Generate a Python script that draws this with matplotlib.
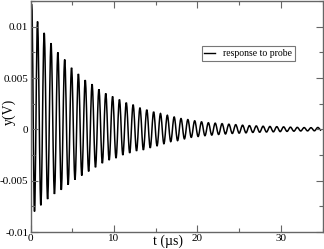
import matplotlib
matplotlib.use("Agg")
import matplotlib.pyplot as plt
from matplotlib.ticker import MultipleLocator
from matplotlib.path import Path
from matplotlib.patches import PathPatch
from matplotlib.lines import Line2D

# Extrema (time in µs, value in V)
peak_t = [0.15, 0.84, 1.64, 2.46, 3.28, 4.10, 4.92, 5.74, 6.56, 7.38, 8.20, 9.02,
          9.84, 10.66, 11.48, 12.30, 13.12, 13.94, 14.76, 15.58, 16.40, 17.22,
          18.04, 18.86, 19.68, 20.50, 21.32, 22.14, 22.96, 23.78, 24.60, 25.42,
          26.24, 27.06, 27.88, 28.70, 29.52, 30.34, 31.16, 31.98, 32.80, 33.62, 34.44]
peak_v = [0.0122, 0.0105, 0.0094, 0.0084, 0.0075, 0.0068, 0.0060, 0.0054, 0.0048,
          0.0044, 0.0039, 0.0035, 0.0032, 0.0029, 0.0026, 0.0024, 0.0021, 0.0019,
          0.0017, 0.00154, 0.00137, 0.0012, 0.00105, 0.00095, 0.00083, 0.00073,
          0.00064, 0.0006, 0.00055, 0.0005, 0.00045, 0.0004, 0.00036, 0.00033,
          0.0003, 0.00028, 0.00026, 0.00024, 0.00021, 0.00019, 0.00017, 0.00016, 0.00018]
trough_t = [0.48, 1.24, 2.05, 2.87, 3.69, 4.51, 5.33, 6.15, 6.97, 7.79, 8.61, 9.43,
            10.25, 11.07, 11.89, 12.71, 13.53, 14.35, 15.17, 15.99, 16.81, 17.63,
            18.45, 19.27, 20.09, 20.91, 21.73, 22.55, 23.37, 24.19, 25.01, 25.83,
            26.65, 27.47, 28.29, 29.11, 29.93, 30.75, 31.57, 32.39, 33.21, 34.03, 34.85]
trough_v = [-0.0080, -0.0074, -0.0068, -0.0063, -0.0059, -0.0054, -0.0049, -0.0045,
            -0.0041, -0.0037, -0.0033, -0.0030, -0.0028, -0.0025, -0.0023, -0.0021,
            -0.0020, -0.0018, -0.0016, -0.0014, -0.0012, -0.0011, -0.00093, -0.00078,
            -0.0007, -0.00062, -0.00056, -0.0005, -0.00045, -0.0004, -0.00037,
            -0.00034, -0.0003, -0.00028, -0.00026, -0.00024, -0.00022, -0.0002,
            -0.00018, -0.00016, -0.00015, -0.00014, -0.0001]

x_ticks = [0, 10, 20, 30]
y_ticks = [-0.01, -0.005, 0, 0.005, 0.01]
y_tick_labels = ["-0.01", "-0.005", "0", "0.005", "0.01"]

# interleave extrema into one series
t = []
v = []
for a, b, c, d in zip(peak_t, peak_v, trough_t, trough_v):
    t += [a, c]
    v += [b, d]

# smooth curve between extrema: cubic Bezier segments with flat tangents
verts = [(t[0], v[0])]
codes = [Path.MOVETO]
k = 0.3634
for i in range(len(t) - 1):
    dt = t[i + 1] - t[i]
    verts += [(t[i] + k * dt, v[i]), (t[i + 1] - k * dt, v[i + 1]), (t[i + 1], v[i + 1])]
    codes += [Path.CURVE4] * 3

plt.rcParams['font.family'] = ['Liberation Serif', 'DejaVu Serif']

fig = plt.figure(figsize=(3.24, 2.49), dpi=100)
ax = fig.add_axes([30.5/324, 17/249, 292/324, 231/249])
ax.add_patch(PathPatch(Path(verts, codes), facecolor='none', edgecolor='black', lw=1.1))

ax.set_xlim(0, 35)
ax.set_ylim(-0.01, 0.0125)
ax.set_xticks(x_ticks)
ax.set_xticklabels([str(x) for x in x_ticks])
ax.set_yticks(y_ticks)
ax.set_yticklabels(y_tick_labels)
ax.xaxis.set_minor_locator(MultipleLocator(5))
ax.yaxis.set_minor_locator(MultipleLocator(0.0025))
ax.tick_params(which='both', direction='in', top=True, right=True,
               labelsize=8, color='#666666', pad=1.5)
ax.tick_params(which='major', length=5, width=0.8)
ax.tick_params(which='minor', length=3, width=0.8)
for s in ax.spines.values():
    s.set_color('#666666')
    s.set_linewidth(1.0)

ax.set_xlabel('t (µs)', fontsize=10, labelpad=0)
ax.xaxis.set_label_coords(0.47, -0.012)
ax.set_ylabel('y(V)', fontsize=10, labelpad=0)
ax.yaxis.set_label_coords(-0.05, 0.52)

handle = Line2D([], [], color='black', lw=1.0)
leg = ax.legend([handle], ['response to probe'], loc='upper left',
                bbox_to_anchor=(171/292, 1 - 45/231),
                fontsize=7, frameon=True, fancybox=False, handlelength=1.1,
                handletextpad=0.8, borderpad=0.3, borderaxespad=0)
leg.get_frame().set_edgecolor('#555555')
leg.get_frame().set_linewidth(0.8)

fig.savefig('out.png', dpi=100)
